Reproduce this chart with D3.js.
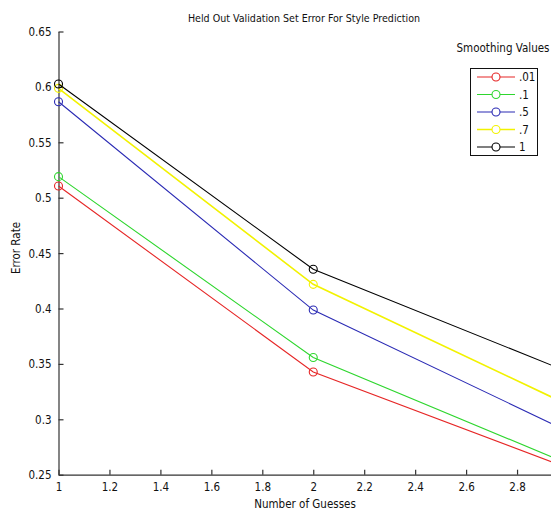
<!DOCTYPE html>
<html>
<head>
<meta charset="utf-8">
<script src="https://cdn.jsdelivr.net/npm/d3@7"></script>
<style>
	body { margin: 0; background: #fff; }
	text { font-family: 'Liberation Sans Narrow', 'Arial Narrow', 'DejaVu Sans Condensed', sans-serif; fill: #111; }
</style>
</head>
<body>
<div id="chart"></div>
<script>
// data
var guesses = [1, 2, 3];
var smoothing = ['.01', '.1', '.5', '.7', '1'];
var err01 = [0.5106, 0.3427, 0.2560];
var err1 = [0.5190, 0.3558, 0.2599];
var err5 = [0.5866, 0.3986, 0.2891];
var err7 = [0.5987, 0.4218, 0.3131];
var errOne = [0.6026, 0.4354, 0.3428];
var xTicks = [1, 1.2, 1.4, 1.6, 1.8, 2, 2.2, 2.4, 2.6, 2.8];
var yTicks = [0.25, 0.3, 0.35, 0.4, 0.45, 0.5, 0.55, 0.6, 0.65];

var colors = ['#e62626', '#2ed62e', '#2a2ab4', '#f2f200', '#000000'];

function drawChart(){
	var width = 551;
	var height = 512;
	var allSeries = [err01, err1, err5, err7, errOne];

	var x = d3.scaleLinear().domain([1, 3]).range([58.5, 568]);
	var y = d3.scaleLinear().domain([0.25, 0.65]).range([474.7, 31.5]);

	var svg = d3.select('#chart')
		.append('svg')
		.attr('width', width)
		.attr('height', height);

	svg.append('rect')
		.attr('width', width)
		.attr('height', height)
		.attr('fill', '#fff');

	// axes, ticks pointing inward like matlab
	var xAxis = d3.axisBottom(x)
		.tickValues(xTicks)
		.tickSizeInner(-5)
		.tickSizeOuter(0)
		.tickPadding(8)
		.tickFormat(d3.format('~g'));
	var yAxis = d3.axisLeft(y)
		.tickValues(yTicks)
		.tickSizeInner(-5)
		.tickSizeOuter(0)
		.tickPadding(7)
		.tickFormat(d3.format('~g'));

	var gx = svg.append('g')
		.attr('transform', 'translate(0,' + y(0.25) + ')')
		.call(xAxis);
	var gy = svg.append('g')
		.attr('transform', 'translate(' + x(1) + ',0)')
		.call(yAxis);

	[gx, gy].forEach(function(g){
		g.select('.domain').attr('stroke', '#333').attr('stroke-width', 1.2);
		g.selectAll('.tick line').attr('stroke', '#333').attr('stroke-width', 1.2);
		g.selectAll('.tick text')
			.style('font-size', '11.5px')
			.style('font-family', null)
			.attr('fill', '#111');
	});
	gx.selectAll('.tick text').attr('dy', '0.75em');
	gy.selectAll('.tick text').attr('dy', '0.35em');

	// lines and open circle markers
	var line = d3.line()
		.x(function(d, i){ return x(guesses[i]); })
		.y(function(d){ return y(d); });

	allSeries.forEach(function(vals, k){
		svg.append('path')
			.datum(vals)
			.attr('d', line)
			.attr('fill', 'none')
			.attr('stroke', colors[k])
			.attr('stroke-width', k == 3 ? 1.6 : 1.1);

		svg.selectAll('.pt' + k)
			.data(vals)
			.enter()
			.append('circle')
			.attr('class', 'pt' + k)
			.attr('cx', function(d, i){ return x(guesses[i]); })
			.attr('cy', function(d){ return y(d); })
			.attr('r', 4)
			.attr('fill', 'none')
			.attr('stroke', colors[k])
			.attr('stroke-width', 1.1);
	});

	// titles
	svg.append('text')
		.attr('x', 304)
		.attr('y', 22)
		.attr('text-anchor', 'middle')
		.style('font-size', '10.6px')
		.text('Held Out Validation Set Error For Style Prediction');

	svg.append('text')
		.attr('x', 305)
		.attr('y', 508)
		.attr('text-anchor', 'middle')
		.style('font-size', '11.5px')
		.text('Number of Guesses');

	svg.append('text')
		.attr('transform', 'translate(20,248) rotate(-90)')
		.attr('text-anchor', 'middle')
		.style('font-size', '11.5px')
		.text('Error Rate');

	// legend
	var legendRowHeight = 17.5;
	svg.append('text')
		.attr('x', 503)
		.attr('y', 52)
		.attr('text-anchor', 'middle')
		.style('font-size', '11.5px')
		.text('Smoothing Values');

	svg.append('rect')
		.attr('x', 470.5)
		.attr('y', 68.5)
		.attr('width', 67)
		.attr('height', 87)
		.attr('fill', '#fff')
		.attr('stroke', '#111')
		.attr('stroke-width', 1);

	var legend = svg.selectAll('.legend')
		.data(smoothing)
		.enter()
		.append('g')
		.attr('class', 'legend')
		.attr('transform', function(d, i){
			return 'translate(0,' + (77 + i * legendRowHeight) + ')';
		});

	legend.append('line')
		.attr('x1', 477)
		.attr('x2', 515)
		.attr('stroke', function(d, i){ return colors[i]; })
		.attr('stroke-width', function(d, i){ return i == 3 ? 1.6 : 1.1; });

	legend.append('circle')
		.attr('cx', 496)
		.attr('r', 4)
		.attr('fill', '#fff')
		.attr('stroke', function(d, i){ return colors[i]; })
		.attr('stroke-width', 1.1);

	legend.append('text')
		.attr('x', 519)
		.attr('dy', '0.35em')
		.style('font-size', '11.5px')
		.text(function(d){ return d; });
}
drawChart();
</script>
</body>
</html>
